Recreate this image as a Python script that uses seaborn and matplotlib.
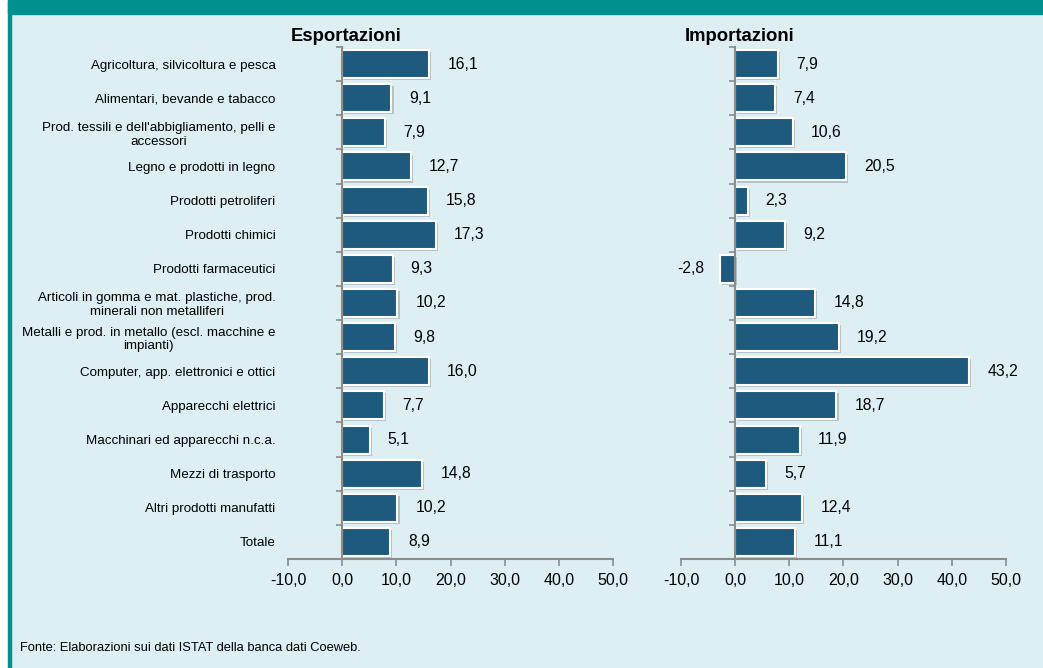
import numpy as np
import pandas as pd
import seaborn as sns
import matplotlib.pyplot as plt
import matplotlib.patheffects as pe
from matplotlib.ticker import FuncFormatter, FixedLocator
from matplotlib.patches import Rectangle

# Dati
settori = [
    "Agricoltura, silvicoltura e pesca",
    "Alimentari, bevande e tabacco",
    "Prod. tessili e dell'abbigliamento, pelli e\naccessori",
    "Legno e prodotti in legno",
    "Prodotti petroliferi",
    "Prodotti chimici",
    "Prodotti farmaceutici",
    "Articoli in gomma e mat. plastiche, prod.\nminerali non metalliferi",
    "Metalli e prod. in metallo (escl. macchine e\nimpianti)",
    "Computer, app. elettronici e ottici",
    "Apparecchi elettrici",
    "Macchinari ed apparecchi n.c.a.",
    "Mezzi di trasporto",
    "Altri prodotti manufatti",
    "Totale",
]
esportazioni = [16.1, 9.1, 7.9, 12.7, 15.8, 17.3, 9.3, 10.2, 9.8, 16.0, 7.7, 5.1, 14.8, 10.2, 8.9]
importazioni = [7.9, 7.4, 10.6, 20.5, 2.3, 9.2, -2.8, 14.8, 19.2, 43.2, 18.7, 11.9, 5.7, 12.4, 11.1]
tick_x = [-10, 0, 10, 20, 30, 40, 50]

sfondo = '#DDEFF2'
teal = '#00908F'
blu = '#1D5A7D'
grigio = '#8C8C8C'

sns.set_style('white')
plt.rcParams['font.family'] = ['Liberation Sans', 'DejaVu Sans']
plt.rcParams['text.color'] = 'black'
plt.rcParams['xtick.labelcolor'] = 'black'
plt.rcParams['ytick.labelcolor'] = 'black'

fig = plt.figure(figsize=(10.43, 6.68), dpi=100)
fig.patch.set_facecolor(sfondo)

# cornice: banda in alto, striscia a sinistra
fig.patches.append(Rectangle((0, 0), 8 / 1043, 1, transform=fig.transFigure, color='white', zorder=0))
fig.patches.append(Rectangle((8 / 1043, 0), 3 / 1043, 1, transform=fig.transFigure, color=teal, zorder=0))
fig.patches.append(Rectangle((8 / 1043, 1 - 14 / 668), 1, 14 / 668, transform=fig.transFigure, color=teal, zorder=0))

fmt = FuncFormatter(lambda v, p: f"{v:.1f}".replace('.', ','))


def pannello(ax, valori, titolo, mostra_etichette):
    df = pd.DataFrame({'settore': settori, 'valore': valori})
    sns.barplot(data=df, x='valore', y='settore', ax=ax, color=blu, saturation=1,
                edgecolor='white', linewidth=1.5, width=0.82, orient='h')
    for patch in ax.patches:
        patch.set_path_effects([pe.SimplePatchShadow(offset=(1.5, -1.5), shadow_rgbFace='#9aa4a8', alpha=0.6),
                                pe.Normal()])
    ax.set_facecolor(sfondo)
    ax.set_xlim(-10, 50)
    ax.set_ylim(len(settori) - 0.5, -0.5)
    ax.set_xlabel('')
    ax.set_ylabel('')
    for s in ['top', 'right']:
        ax.spines[s].set_visible(False)
    ax.spines['left'].set_position(('data', 0))
    ax.spines['left'].set_color(grigio)
    ax.spines['left'].set_linewidth(1.5)
    ax.spines['left'].set_zorder(3)
    ax.spines['bottom'].set_color(grigio)
    ax.spines['bottom'].set_linewidth(1.5)
    ax.set_xticks(tick_x)
    ax.xaxis.set_major_formatter(fmt)
    ax.tick_params(axis='x', direction='out', length=5, color=grigio, width=1.2,
                   labelsize=11.5, pad=5, bottom=True)
    ax.tick_params(axis='y', which='major', length=0, pad=48)
    ax.yaxis.set_minor_locator(FixedLocator(np.arange(-0.5, len(settori), 1)))
    ax.tick_params(axis='y', which='minor', direction='out', length=4, color=grigio, width=1.2, left=True)
    if mostra_etichette:
        ax.set_yticks(range(len(settori)))
        ax.set_yticklabels(settori, fontsize=9.6, multialignment='center')
    else:
        ax.set_yticklabels([])
    for i, v in enumerate(valori):
        testo = f"{v:.1f}".replace('.', ',')
        if v >= 0:
            ax.annotate(testo, (v, i), xytext=(13, 0), textcoords='offset points',
                        ha='left', va='center', fontsize=11.3)
        else:
            ax.annotate(testo, (v, i), xytext=(-11, 0), textcoords='offset points',
                        ha='right', va='center', fontsize=11.3)
    ax.annotate(titolo, (0, 1), xycoords=('data', 'axes fraction'), xytext=(3, 1.5),
                textcoords='offset points', ha='center', va='bottom',
                fontsize=13.3, fontweight='bold')


ax1 = fig.add_axes([288 / 1043, 1 - 559 / 668, 325 / 1043, 512 / 668])
ax2 = fig.add_axes([681 / 1043, 1 - 559 / 668, 325 / 1043, 512 / 668])
pannello(ax1, esportazioni, 'Esportazioni', True)
pannello(ax2, importazioni, 'Importazioni', False)

fig.text(20 / 1043, 1 - 648 / 668, 'Fonte: Elaborazioni sui dati ISTAT della banca dati Coeweb.',
         fontsize=9.3, va='center', ha='left')

fig.savefig('out.png', dpi=100, facecolor=fig.get_facecolor())
